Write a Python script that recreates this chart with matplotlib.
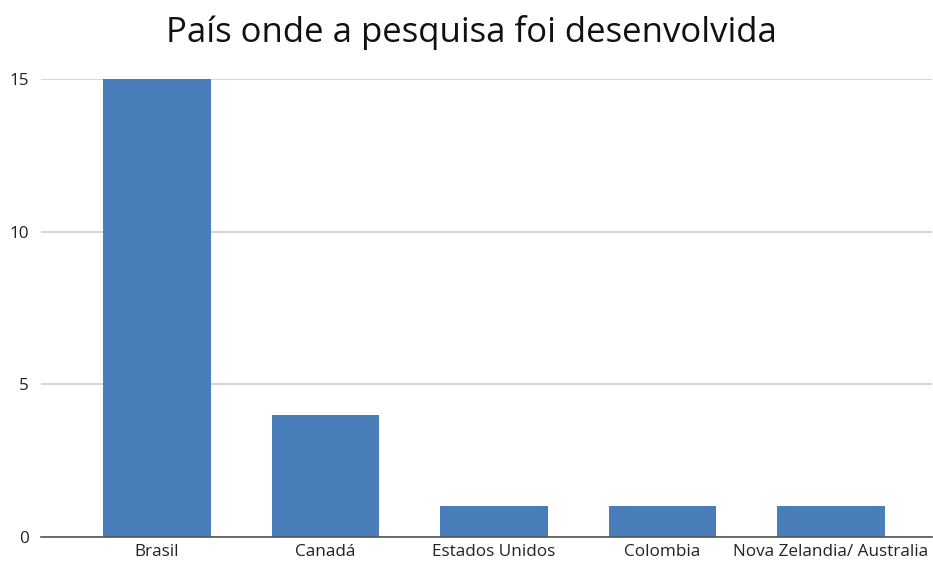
import matplotlib
matplotlib.use('Agg')
import matplotlib.pyplot as plt

# dados
paises = ['Brasil', 'Canadá', 'Estados Unidos', 'Colombia', 'Nova Zelandia/ Australia']
qtd = [15, 4, 1, 1, 1]
yticks = [0, 5, 10, 15]

plt.rcParams['font.family'] = ['Open Sans', 'DejaVu Sans']

fig = plt.figure(figsize=(9.33, 5.65), dpi=100)
ax = fig.add_axes([0.044, 0.0496, 0.955, 0.8106])

x = range(len(paises))
ax.bar(x, qtd, width=0.64, color='#4a7ebb', zorder=3)

ax.set_xlim(-0.688, 4.60)
ax.set_ylim(0, 15)
ax.set_yticks(yticks)
ax.set_xticks(list(x))
ax.set_xticklabels(paises, fontsize=12.3, color='#222222')
ax.tick_params(axis='y', labelsize=12.3, colors='#222222', length=0, pad=9)
ax.tick_params(axis='x', length=0, pad=5)

ax.yaxis.grid(True, color='#d0d0d0', linewidth=1.2, zorder=0)
for s in ['top', 'right', 'left']:
    ax.spines[s].set_visible(False)
ax.spines['bottom'].set_color('#555555')
ax.spines['bottom'].set_linewidth(1.2)
ax.spines['bottom'].set_zorder(4)

fig.text(0.505, 0.942, 'País onde a pesquisa foi desenvolvida', ha='center', va='center',
         fontsize=25, color='#111111')

fig.savefig('out.png', dpi=100)
